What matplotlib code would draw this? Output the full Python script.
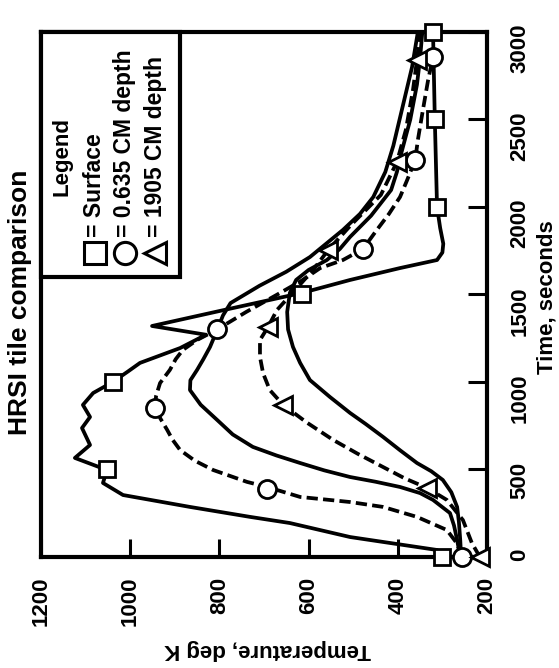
import matplotlib
matplotlib.use('Agg')
import matplotlib.pyplot as plt
from matplotlib.patches import Rectangle

plt.rcParams['font.family'] = ['Liberation Sans', 'DejaVu Sans']
plt.rcParams['font.weight'] = 'bold'

# surface (solid line, squares)
t_surf = [0, 40, 114, 194, 229, 286, 354, 423, 497, 566, 640, 737, 800, 869, 937, 1000,
          1060, 1109, 1194, 1270, 1320, 1406, 1509, 1583, 1651, 1697, 1740, 1790, 1880, 2000, 2500, 3000]
T_surf = [300, 312, 507, 642, 731, 866, 1016, 1061, 1052, 1124, 1090, 1108, 1090, 1106, 1083, 1039,
          1005, 978, 888, 830, 951, 799, 615, 507, 395, 312, 300, 298, 305, 312, 317, 321]
t_sq = [0, 500, 1000, 1500, 2000, 2500, 3000]
T_sq = [300, 1052, 1039, 615, 312, 317, 321]

# 0.635 cm depth (dashed line, circles)
t_c = [0, 80, 154, 229, 286, 314, 343, 400, 429, 497, 550, 611, 670, 726, 790, 851, 920, 994,
       1069, 1130, 1183, 1240, 1300, 1400, 1500, 1580, 1651, 1697, 1760, 1869, 1960, 2057,
       2154, 2269, 2383, 2550, 2726, 2857]
T_c = [256, 268, 290, 357, 433, 507, 619, 693, 738, 814, 855, 888, 905, 917, 932, 944, 942, 933,
       911, 898, 882, 850, 805, 740, 670, 615, 574, 523, 478, 447, 420, 395,
       379, 361, 355, 344, 332, 321]
t_circ = [0, 390, 851, 1300, 1760, 2269, 2857]
T_circ = [256, 693, 944, 805, 478, 361, 321]

# 1905 cm depth (dashed line, triangles)
t_tr = [0, 80, 211, 326, 394, 450, 514, 590, 669, 770, 869, 954, 1050, 1143, 1240, 1314,
        1411, 1526, 1640, 1754, 1897, 2069, 2257, 2440, 2668, 2840, 3000]
T_tr = [216, 234, 254, 290, 334, 385, 433, 490, 545, 605, 657, 687, 702, 709, 709, 691,
        671, 630, 590, 556, 505, 438, 402, 382, 366, 357, 350]
t_tri = [0, 394, 869, 1314, 1754, 2257, 2840]
T_tri = [216, 334, 657, 691, 556, 402, 357]

# solid curves without markers (0.635 and 1905 depth)
t_s1 = [0, 97, 180, 251, 326, 365, 400, 430, 457, 495, 537, 580, 629, 700, 783, 870, 954,
        1010, 1069, 1130, 1200, 1297, 1380, 1451, 1550, 1630, 1714, 1869, 1960, 2057, 2200,
        2350, 2500, 2650, 2800, 3000]
T_s1 = [260, 267, 274, 283, 321, 350, 395, 450, 507, 565, 619, 672, 725, 770, 805, 842, 866,
        865, 850, 836, 821, 805, 792, 775, 710, 650, 597, 523, 485, 455, 428,
        410, 396, 382, 368, 355]
t_s2 = [0, 97, 200, 286, 370, 440, 490, 537, 610, 686, 760, 823, 914, 1011, 1109, 1200, 1300,
        1400, 1509, 1583, 1640, 1697, 1760, 1829, 1950, 2097, 2200, 2300, 2500, 2700, 2850, 3000]
T_s2 = [258, 260, 263, 267, 280, 299, 325, 357, 395, 433, 472, 507, 552, 597, 619, 635, 646,
        648, 642, 628, 600, 559, 530, 507, 460, 415, 402, 393, 372, 357, 350, 345]

temp_ticks = [1200, 1000, 800, 600, 400, 200]
time_ticks = [0, 500, 1000, 1500, 2000, 2500, 3000]
legend_labels = ['= Surface', '= 0.635 CM depth', '= 1905 CM depth']

fig = plt.figure(figsize=(5.59, 6.68), dpi=100)
ax = fig.add_axes([0.0733, 0.1662, 0.7979, 0.7859])

lw = 2.7
ax.plot(T_surf, t_surf, 'k-', lw=lw, solid_joinstyle='round')
ax.plot(T_s1, t_s1, 'k-', lw=lw, solid_joinstyle='round')
ax.plot(T_s2, t_s2, 'k-', lw=lw, solid_joinstyle='round')
ax.plot(T_c, t_c, 'k', lw=lw, dashes=(3.0, 1.4))
ax.plot(T_tr, t_tr, 'k', lw=lw, dashes=(3.0, 1.4))

mk = dict(ls='none', mfc='white', mec='k', mew=2.0, clip_on=False, zorder=5)
ax.plot(T_sq, t_sq, marker='s', ms=12, **mk)
ax.plot(T_circ, t_circ, marker='o', ms=13, **mk)
ax.plot(T_tri, t_tri, marker='<', ms=13, **mk)

ax.set_xlim(1200, 200)
ax.set_ylim(0, 3000)
ax.set_xticks(temp_ticks)
ax.set_yticks(time_ticks)

for s in ax.spines.values():
    s.set_linewidth(3)

ax.tick_params(axis='x', direction='in', length=13, width=2.2, pad=14,
               labelsize=16, labelrotation=90, top=False)
ax.yaxis.tick_right()
ax.tick_params(axis='y', direction='in', length=14, width=2.2, pad=16,
               labelsize=16, labelrotation=90, left=False)

ax.set_xlabel('Temperature, deg K', rotation=180, fontsize=16, fontweight='bold', va='center')
ax.xaxis.set_label_coords(0.509, -0.177)
ax.yaxis.set_label_position('right')
ax.set_ylabel('Time, seconds', rotation=90, fontsize=16, fontweight='bold', va='center')
ax.yaxis.set_label_coords(1.135, 0.495)

fig.text(0.036, 0.548, 'HRSI tile comparison', rotation=90, ha='center', va='center',
         fontsize=19, fontweight='bold')

# hand-made legend box, rotated like the rest of the page
ax.add_patch(Rectangle((0, 0.533), 0.312, 0.467, transform=ax.transAxes,
                       facecolor='white', edgecolor='k', lw=3, zorder=6, clip_on=False))
ax.text(0.047, 0.762, 'Legend', rotation=90, ha='center', va='center',
        transform=ax.transAxes, fontsize=16, zorder=7)
leg_x = [0.121, 0.188, 0.256]
leg_mk = ['s', 'o', '<']
for xx, m, lab in zip(leg_x, leg_mk, legend_labels):
    ax.plot([xx], [0.579], marker=m, ms=16, mfc='white', mec='k', mew=2.2,
            transform=ax.transAxes, clip_on=False, zorder=7)
    ax.text(xx, 0.610, lab, rotation=90, ha='center', va='bottom',
            transform=ax.transAxes, fontsize=16.5, zorder=7)

fig.savefig('out.png', dpi=100)
